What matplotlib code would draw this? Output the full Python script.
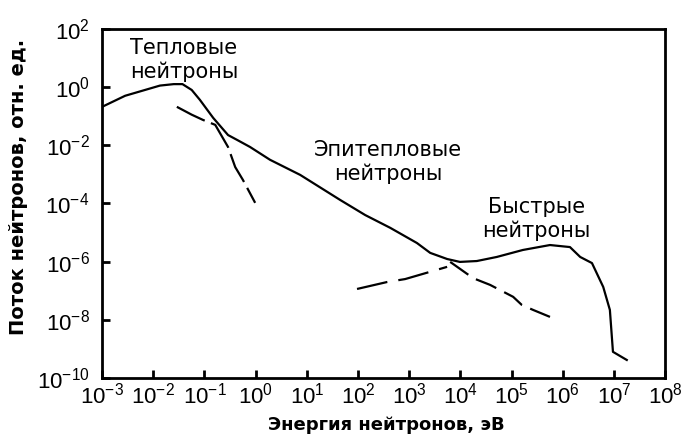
import numpy as np
import matplotlib
matplotlib.use("Agg")
import matplotlib.pyplot as plt
from matplotlib.ticker import FixedLocator, NullLocator

plt.rcParams['font.family'] = ['Liberation Sans', 'DejaVu Sans']
plt.rcParams['mathtext.fontset'] = 'custom'
plt.rcParams['mathtext.rm'] = 'Liberation Sans'
plt.rcParams['mathtext.it'] = 'Liberation Sans'

# full spectrum (log10 energy, log10 flux)
total_logE = [-3.0, -2.55, -2.2, -1.87, -1.6, -1.43, -1.25, -1.09, -0.83, -0.54, -0.36, -0.11,
              0.28, 0.87, 1.65, 2.14, 2.63, 3.15, 3.41, 3.74, 3.99, 4.32, 4.71, 5.22,
              5.75, 6.14, 6.34, 6.57, 6.79, 6.92, 6.98, 7.25]
total_logF = [-0.68, -0.30, -0.12, 0.05, 0.1, 0.1, -0.1, -0.44, -1.06, -1.65, -1.82, -2.06,
              -2.5, -3.02, -3.88, -4.4, -4.84, -5.36, -5.7, -5.91, -6.01, -5.98, -5.84, -5.6,
              -5.43, -5.5, -5.84, -6.05, -6.87, -7.66, -9.1, -9.38]

# thermal (Maxwellian) component
thermal_logE = [-1.54, -1.25, -1.03, -0.79, -0.54, -0.40, -0.25, -0.01]
thermal_logF = [-0.68, -0.95, -1.13, -1.30, -2.06, -2.75, -3.19, -3.98]

# epithermal 1/E tail
epi_logE = [3.8, 4.25, 4.58, 5.03, 5.2, 5.42, 5.75]
epi_logF = [-6.01, -6.57, -6.8, -7.21, -7.49, -7.66, -7.9]

# fast component, low energy side
fast_logE = [1.98, 2.57, 2.92, 3.74]
fast_logF = [-6.94, -6.7, -6.6, -6.18]

fig = plt.figure(figsize=(6.9, 4.37), dpi=100)
ax = fig.add_axes([0.148, 0.135, 0.816, 0.799])

lw = 1.6
ax.plot(10.0 ** np.array(total_logE), 10.0 ** np.array(total_logF), color='black', lw=lw)
ax.plot(10.0 ** np.array(thermal_logE), 10.0 ** np.array(thermal_logF), color='black', lw=lw,
        dashes=(14, 3))
ax.plot(10.0 ** np.array(epi_logE), 10.0 ** np.array(epi_logF), color='black', lw=lw,
        dashes=(10, 4))
ax.plot(10.0 ** np.array(fast_logE), 10.0 ** np.array(fast_logF), color='black', lw=lw,
        dashes=(14, 5))

ax.set_xscale('log')
ax.set_yscale('log')
ax.set_xlim(1e-3, 1e8)
ax.set_ylim(1e-10, 1e2)
ax.xaxis.set_major_locator(FixedLocator([10.0 ** k for k in range(-3, 9)]))
ax.yaxis.set_major_locator(FixedLocator([10.0 ** k for k in range(-10, 3, 2)]))
ax.xaxis.set_minor_locator(NullLocator())
ax.yaxis.set_minor_locator(NullLocator())
ax.tick_params(direction='in', length=6, width=2, labelsize=16, top=False, right=False)
ax.tick_params(axis='x', pad=3)
ax.tick_params(axis='y', pad=9)
for s in ax.spines.values():
    s.set_linewidth(2)

ax.set_xlabel('Энергия нейтронов, эВ', fontsize=13, fontweight='bold', family='DejaVu Sans')
ax.set_ylabel('Поток нейтронов, отн. ед.', fontsize=14, fontweight='bold', family='DejaVu Sans')
ax.xaxis.set_label_coords(0.504, -0.11)
ax.yaxis.set_label_coords(-0.131, 0.547)

ann = dict(fontsize=15, ha='center', va='top', linespacing=1.2, family='DejaVu Sans')
ax.text(10 ** -1.40, 10 ** 1.69, 'Тепловые\nнейтроны', **ann)
ax.text(10 ** 2.59, 10 ** -1.82, 'Эпитепловые\nнейтроны', **ann)
ax.text(10 ** 5.48, 10 ** -3.78, 'Быстрые\nнейтроны', **ann)

fig.savefig('out.png', dpi=100)
